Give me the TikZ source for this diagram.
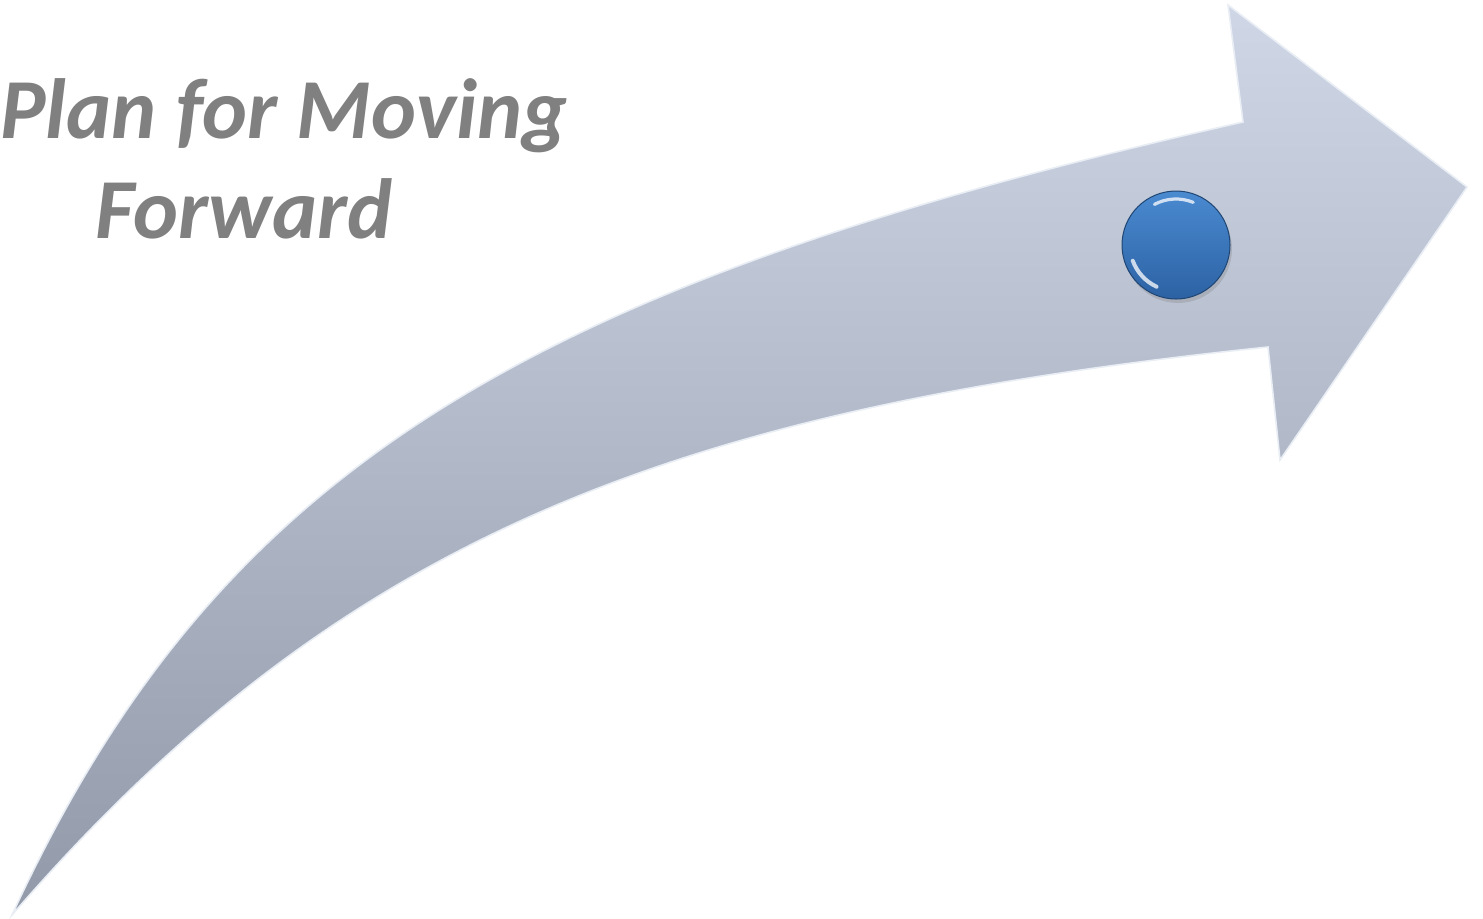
\documentclass[tikz,border=0pt]{standalone}
\usepackage{fontspec}
\setmainfont{Carlito}
\usetikzlibrary{calc,shadows}
\definecolor{arrowtop}{RGB}{207,215,231}
\definecolor{arrowbot}{RGB}{146,154,170}
\definecolor{balltop}{RGB}{74,138,208}
\definecolor{ballbot}{RGB}{44,98,164}
\definecolor{titlegrey}{RGB}{128,128,128}

\begin{document}
\begin{tikzpicture}[x=0.5pt, y=0.5pt,
  curvearrow/.style={top color=arrowtop, bottom color=arrowbot,
    draw=white!55!arrowtop, line width=0.8pt, line join=miter},
  bluedot/.style={circle, minimum size=54pt, inner sep=0pt,
    top color=balltop, bottom color=ballbot, draw=ballbot!70!black,
    line width=0.5pt,
    drop shadow={opacity=0.3, shadow xshift=1pt, shadow yshift=-2pt}},
  shine/.style={white, line width=1.6pt, line cap=round, opacity=0.75},
  heading/.style={font=\bfseries\itshape\fontsize{42.7}{50}\selectfont,
    text=titlegrey, align=left, inner sep=0pt},
]
\useasboundingbox (0,0) rectangle (1483,-918);

% ---- curved arrow: shaft edges, then the head ----
\coordinate (tail) at (12,-915);
\coordinate (ntop) at (1243,-122);
\coordinate (htop) at (1228,-5);
\coordinate (tip)  at (1467,-187);
\coordinate (hbot) at (1280,-460);
\coordinate (nbot) at (1268,-347);
\path[curvearrow] (tail) .. controls (214,-478) and (512,-287) .. (ntop)
  -- (htop) -- (tip) -- (hbot) -- (nbot)
  .. controls (671,-409) and (340,-537) .. cycle;

% ---- blue marker on the shaft ----
\node[bluedot] (dot) at (1176,-245) {};
\draw[shine] ($(dot.center)+(118:23pt)$) arc[start angle=118, end angle=68, radius=23pt];
\draw[shine, line width=2pt] ($(dot.center)+(200:23pt)$) arc[start angle=200, end angle=245, radius=23pt];

% ---- title, top left ----
\node[heading, anchor=north west] (heading) at (0,-78)
  {Plan for Moving\\\hspace*{47.5pt}Forward};

\end{tikzpicture}
\end{document}
